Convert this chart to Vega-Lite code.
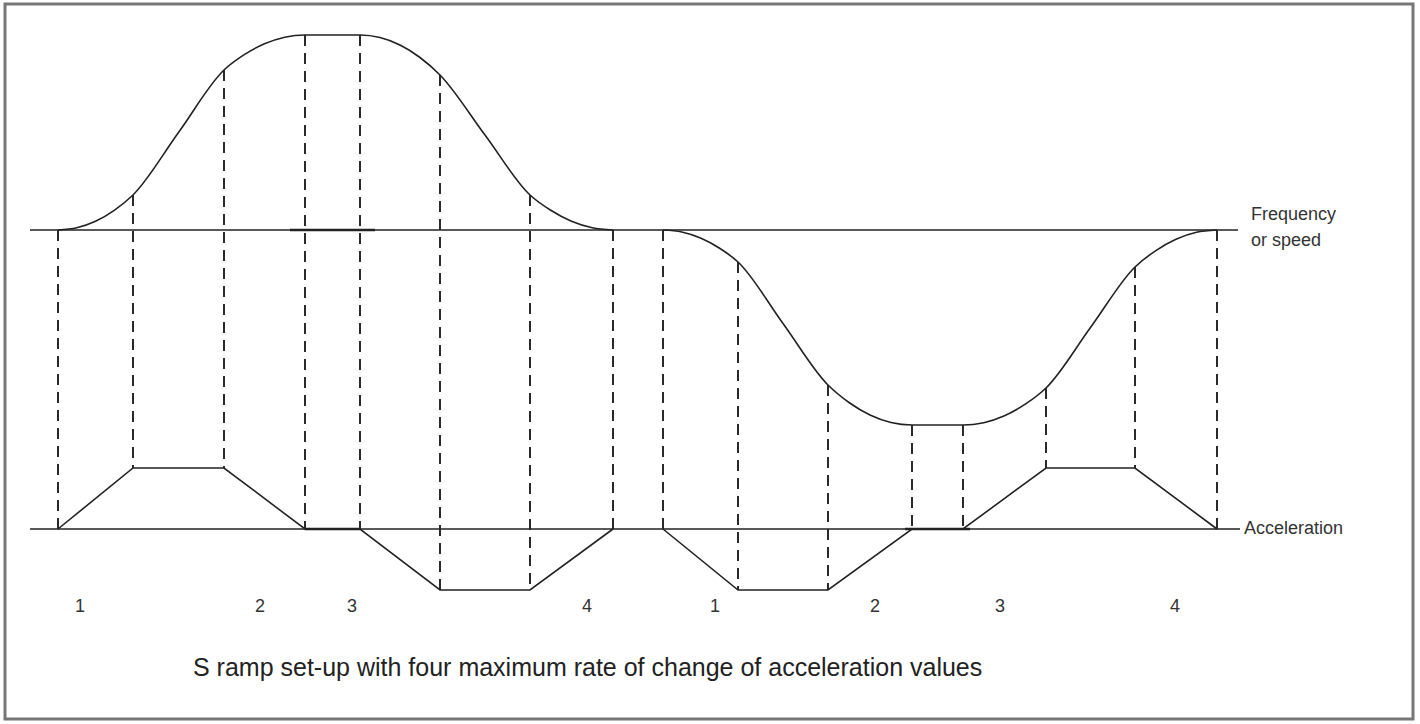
{
  "$schema": "https://vega.github.io/schema/vega-lite/v6.json",
  "width": 1420,
  "height": 724,
  "autosize": {"type": "none"},
  "padding": 0,
  "background": "white",
  "config": {"view": {"stroke": null}},
  "datasets": {
    "curves": [
      {"s": "up", "x": 58, "y": 230}, {"s": "up", "x": 76.75, "y": 227.8}, {"s": "up", "x": 95.5, "y": 221.3}, {"s": "up", "x": 114.25, "y": 210.3}, {"s": "up", "x": 133, "y": 195},
      {"s": "up", "x": 178.5, "y": 132.5}, {"s": "up", "x": 224, "y": 70},
      {"s": "up", "x": 244.25, "y": 54.7}, {"s": "up", "x": 264.5, "y": 43.8}, {"s": "up", "x": 284.75, "y": 37.2}, {"s": "up", "x": 305, "y": 35},
      {"s": "up", "x": 332, "y": 35}, {"s": "up", "x": 360, "y": 35},
      {"s": "up", "x": 380, "y": 37.5}, {"s": "up", "x": 400, "y": 45}, {"s": "up", "x": 420, "y": 57.5}, {"s": "up", "x": 440, "y": 75},
      {"s": "up", "x": 485, "y": 135}, {"s": "up", "x": 530, "y": 195},
      {"s": "up", "x": 550.75, "y": 210.3}, {"s": "up", "x": 571.5, "y": 221.3}, {"s": "up", "x": 592.25, "y": 227.8}, {"s": "up", "x": 613, "y": 230},
      {"s": "down", "x": 663, "y": 230}, {"s": "down", "x": 681.75, "y": 232}, {"s": "down", "x": 700.5, "y": 238}, {"s": "down", "x": 719.25, "y": 248}, {"s": "down", "x": 738, "y": 262},
      {"s": "down", "x": 783, "y": 323.5}, {"s": "down", "x": 828, "y": 385},
      {"s": "down", "x": 849, "y": 402.5}, {"s": "down", "x": 870, "y": 415}, {"s": "down", "x": 891, "y": 422.5}, {"s": "down", "x": 912, "y": 425},
      {"s": "down", "x": 937, "y": 425}, {"s": "down", "x": 963, "y": 425},
      {"s": "down", "x": 983.75, "y": 422.7}, {"s": "down", "x": 1004.5, "y": 415.8}, {"s": "down", "x": 1025.25, "y": 404.2}, {"s": "down", "x": 1046, "y": 388},
      {"s": "down", "x": 1090.5, "y": 327.5}, {"s": "down", "x": 1135, "y": 267},
      {"s": "down", "x": 1155.5, "y": 250.8}, {"s": "down", "x": 1176, "y": 239.3}, {"s": "down", "x": 1196.5, "y": 232.3}, {"s": "down", "x": 1217, "y": 230}
    ],
    "accel": [
      {"s": "L", "x": 58, "y": 529}, {"s": "L", "x": 133, "y": 468}, {"s": "L", "x": 224, "y": 468}, {"s": "L", "x": 305, "y": 529},
      {"s": "L", "x": 360, "y": 529}, {"s": "L", "x": 440, "y": 590}, {"s": "L", "x": 530, "y": 590}, {"s": "L", "x": 613, "y": 529},
      {"s": "R", "x": 663, "y": 529}, {"s": "R", "x": 738, "y": 590}, {"s": "R", "x": 828, "y": 590}, {"s": "R", "x": 912, "y": 529},
      {"s": "R", "x": 963, "y": 529}, {"s": "R", "x": 1046, "y": 468}, {"s": "R", "x": 1135, "y": 468}, {"s": "R", "x": 1217, "y": 529}
    ],
    "dashes": [
      {"x": 58, "y": 230, "y2": 529}, {"x": 133, "y": 195, "y2": 468}, {"x": 224, "y": 70, "y2": 468}, {"x": 305, "y": 35, "y2": 529},
      {"x": 360, "y": 35, "y2": 529}, {"x": 440, "y": 75, "y2": 590}, {"x": 530, "y": 195, "y2": 590}, {"x": 613, "y": 230, "y2": 529},
      {"x": 663, "y": 230, "y2": 529}, {"x": 738, "y": 262, "y2": 590}, {"x": 828, "y": 385, "y2": 590}, {"x": 912, "y": 425, "y2": 529},
      {"x": 963, "y": 425, "y2": 529}, {"x": 1046, "y": 388, "y2": 468}, {"x": 1135, "y": 267, "y2": 468}, {"x": 1217, "y": 230, "y2": 529}
    ],
    "base": [
      {"x": 30, "x2": 1238, "y": 230, "w": 1.6},
      {"x": 290, "x2": 375, "y": 230, "w": 2.6},
      {"x": 30, "x2": 1240, "y": 529, "w": 1.6},
      {"x": 305, "x2": 360, "y": 529, "w": 2.6},
      {"x": 905, "x2": 970, "y": 529, "w": 2.6}
    ],
    "labels": [
      {"x": 80, "y": 607, "t": "1"}, {"x": 260, "y": 607, "t": "2"}, {"x": 352, "y": 607, "t": "3"}, {"x": 587, "y": 607, "t": "4"},
      {"x": 715, "y": 607, "t": "1"}, {"x": 875, "y": 607, "t": "2"}, {"x": 1000, "y": 607, "t": "3"}, {"x": 1175, "y": 607, "t": "4"}
    ],
    "side": [
      {"x": 1251, "y": 215, "t": "Frequency"},
      {"x": 1251, "y": 241, "t": "or speed"},
      {"x": 1244, "y": 529, "t": "Acceleration"}
    ],
    "caption": [
      {"x": 193, "y": 668, "t": "S ramp set-up with four maximum rate of change of acceleration values"}
    ],
    "frame": [
      {"x": 5, "x2": 1413, "y": 4, "y2": 719}
    ]
  },
  "layer": [
    {
      "data": {"name": "frame"},
      "mark": {"type": "rect", "filled": false, "stroke": "#777777", "strokeWidth": 3},
      "encoding": {
        "x": {"field": "x", "type": "quantitative", "scale": {"domain": [0, 1420], "nice": false, "zero": false}, "axis": null},
        "x2": {"field": "x2"},
        "y": {"field": "y", "type": "quantitative", "scale": {"domain": [0, 724], "reverse": true, "nice": false, "zero": false}, "axis": null},
        "y2": {"field": "y2"}
      }
    },
    {
      "data": {"name": "base"},
      "mark": {"type": "rule", "color": "#222222"},
      "encoding": {
        "x": {"field": "x", "type": "quantitative"},
        "x2": {"field": "x2"},
        "y": {"field": "y", "type": "quantitative"},
        "strokeWidth": {"field": "w", "type": "quantitative", "scale": null}
      }
    },
    {
      "data": {"name": "dashes"},
      "mark": {"type": "rule", "color": "#2a2a2a", "strokeWidth": 2, "strokeDash": [11, 7]},
      "encoding": {
        "x": {"field": "x", "type": "quantitative"},
        "y": {"field": "y", "type": "quantitative"},
        "y2": {"field": "y2"}
      }
    },
    {
      "data": {"name": "curves"},
      "mark": {"type": "line", "color": "#222222", "strokeWidth": 1.6, "interpolate": "monotone"},
      "encoding": {
        "x": {"field": "x", "type": "quantitative"},
        "y": {"field": "y", "type": "quantitative"},
        "detail": {"field": "s"}
      }
    },
    {
      "data": {"name": "accel"},
      "mark": {"type": "line", "color": "#222222", "strokeWidth": 1.6},
      "encoding": {
        "x": {"field": "x", "type": "quantitative"},
        "y": {"field": "y", "type": "quantitative"},
        "detail": {"field": "s"}
      }
    },
    {
      "data": {"name": "labels"},
      "mark": {"type": "text", "font": "Liberation Sans", "fontSize": 18, "color": "#333333", "align": "center", "baseline": "middle"},
      "encoding": {
        "x": {"field": "x", "type": "quantitative"},
        "y": {"field": "y", "type": "quantitative"},
        "text": {"field": "t"}
      }
    },
    {
      "data": {"name": "side"},
      "mark": {"type": "text", "font": "Liberation Sans", "fontSize": 18, "color": "#333333", "align": "left", "baseline": "middle"},
      "encoding": {
        "x": {"field": "x", "type": "quantitative"},
        "y": {"field": "y", "type": "quantitative"},
        "text": {"field": "t"}
      }
    },
    {
      "data": {"name": "caption"},
      "mark": {"type": "text", "font": "Liberation Sans", "fontSize": 25, "color": "#222222", "align": "left", "baseline": "middle"},
      "encoding": {
        "x": {"field": "x", "type": "quantitative"},
        "y": {"field": "y", "type": "quantitative"},
        "text": {"field": "t"}
      }
    }
  ]
}
